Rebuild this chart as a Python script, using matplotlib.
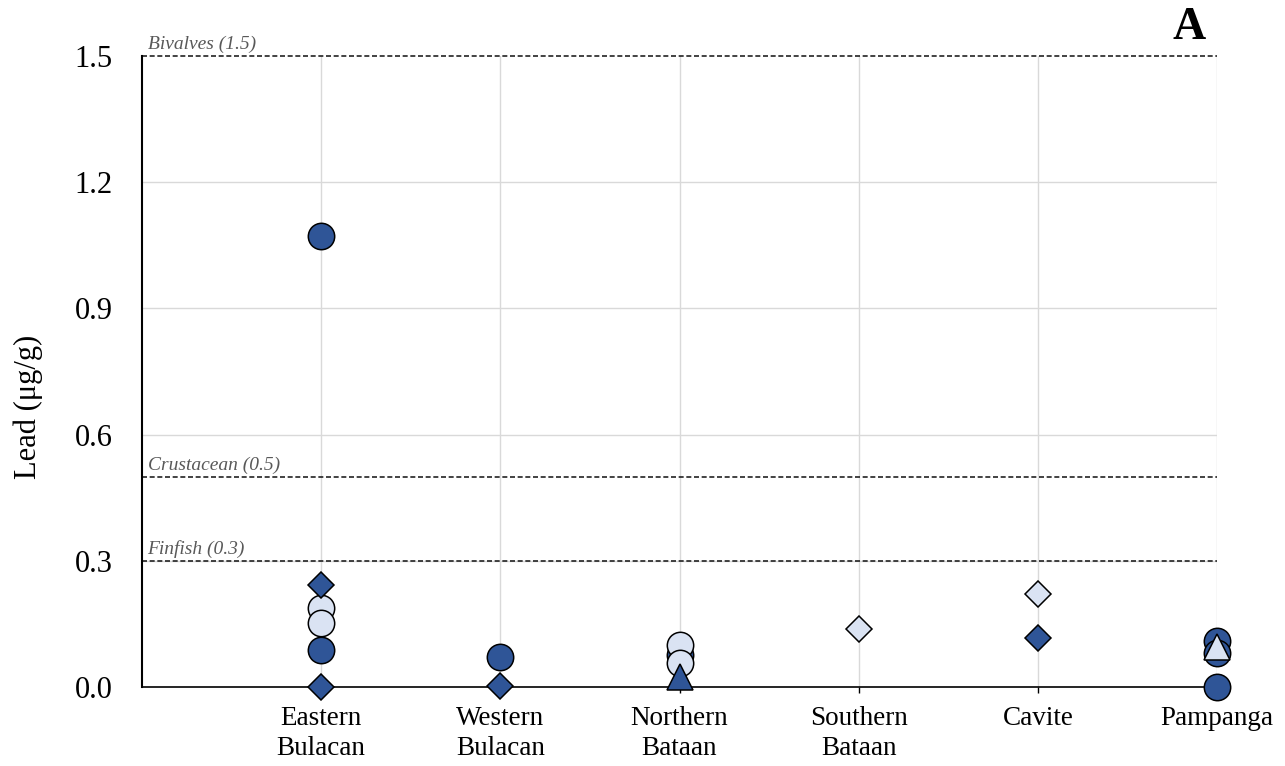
import matplotlib.pyplot as plt
import numpy as np

plt.rcParams['font.family'] = ['Liberation Serif', 'DejaVu Serif']

# sites on the x axis
sites = ["Eastern\nBulacan", "Western\nBulacan", "Northern\nBataan",
         "Southern\nBataan", "Cavite", "Pampanga"]

# lead values (ug/g), each series: site index (1-based) and value
dark_circle_site = [1, 1, 2, 3, 6, 6, 6]
dark_circle_pb = [1.072, 0.088, 0.071, 0.075, 0.110, 0.081, 0.0]

light_circle_site = [1, 1, 3, 3]
light_circle_pb = [0.188, 0.153, 0.100, 0.057]

dark_diamond_site = [1, 1, 2, 5]
dark_diamond_pb = [0.242, 0.0, 0.002, 0.117]

light_diamond_site = [4, 5]
light_diamond_pb = [0.137, 0.220]

dark_triangle_site = [3]
dark_triangle_pb = [0.024]

light_triangle_site = [6]
light_triangle_pb = [0.094]

# regulatory limits
limit_names = ["Bivalves (1.5)", "Crustacean (0.5)", "Finfish (0.3)"]
limit_vals = [1.5, 0.5, 0.3]

DARK = '#2F5597'
LIGHT = '#DAE3F3'

fig = plt.figure(figsize=(12.85, 7.66), dpi=100)
ax = fig.add_axes([142/1285, 79/766, 1075/1285, 631/766])

ax.set_xlim(0, 6)
ax.set_ylim(0, 1.5)

# grid
for x in range(1, 7):
    ax.axvline(x, color='#d9d9d9', lw=1, zorder=0)
for y in [0.3, 0.6, 0.9, 1.2]:
    ax.axhline(y, color='#d9d9d9', lw=1, zorder=0)

# limit lines
for name, v in zip(limit_names, limit_vals):
    ax.plot([0, 6], [v, v], color='#222222', lw=1.2, ls=(0, (3, 1.6)), zorder=1, clip_on=False)
    ax.annotate(name, xy=(0, v), xytext=(4, 2), textcoords='offset points',
                fontsize=14, style='italic', color='#595959', ha='left', va='bottom')

mk = dict(ls='none', mec='black', mew=1.1, clip_on=False)
ax.plot(dark_circle_site, dark_circle_pb, 'o', ms=19, mfc=DARK, zorder=3, **mk)
ax.plot(light_circle_site, light_circle_pb, 'o', ms=19, mfc=LIGHT, zorder=4, **mk)
ax.plot(dark_diamond_site, dark_diamond_pb, 'D', ms=13.4, mfc=DARK, zorder=5, **mk)
ax.plot(light_diamond_site, light_diamond_pb, 'D', ms=13.4, mfc=LIGHT, zorder=5, **mk)
ax.plot(dark_triangle_site, dark_triangle_pb, '^', ms=19, mfc=DARK, zorder=6, **mk)
ax.plot(light_triangle_site, light_triangle_pb, '^', ms=19, mfc=LIGHT, zorder=6, **mk)

ax.set_xticks(range(1, 7))
ax.set_xticklabels(sites, fontsize=19.5, linespacing=1.25)
ax.tick_params(axis='x', length=4, width=1, color='black', pad=10)

ax.set_yticks([0, 0.3, 0.6, 0.9, 1.2, 1.5])
ax.set_yticklabels([f"{v:.1f}" for v in [0, 0.3, 0.6, 0.9, 1.2, 1.5]], fontsize=22)
ax.tick_params(axis='y', length=0, pad=21)

ax.spines['top'].set_visible(False)
ax.spines['right'].set_visible(False)
ax.spines['left'].set_linewidth(1.5)
ax.spines['bottom'].set_linewidth(1.2)
ax.spines['left'].set_zorder(2)

fig.text(28/1285, 1 - 407/766, "Lead (\u03bcg/g)", rotation=90, fontsize=22,
         ha='center', va='center')
fig.text(1189/1285, 1 - 28/766, "A", fontsize=33, fontweight='bold',
         ha='center', va='center')

fig.savefig('out.png', dpi=100)
